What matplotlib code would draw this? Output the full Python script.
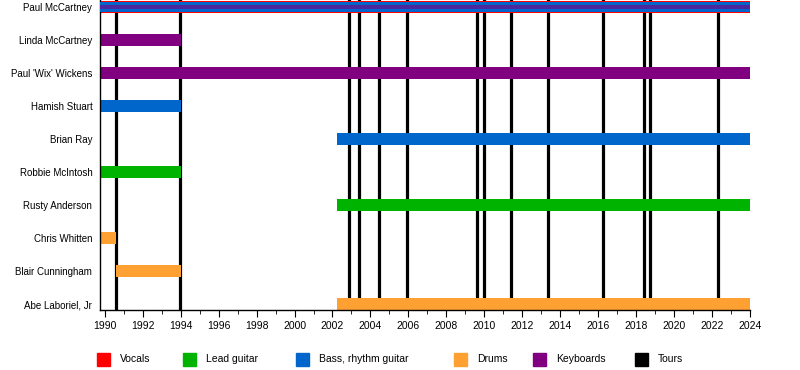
import matplotlib.pyplot as plt
from matplotlib.patches import Rectangle
from matplotlib.ticker import MultipleLocator

plt.rcParams['font.family'] = ['Liberation Sans', 'DejaVu Sans']

colours = {
    "Vocals": "#ff0000",
    "Lead guitar": "#00b300",
    "Bass, rhythm guitar": "#0066cc",
    "Drums": "#ffa033",
    "Keyboards": "#800080",
    "Tours": "#000000",
}

timeline_start = 1989.75
timeline_end = 2024.0

members = ["Paul McCartney", "Linda McCartney", "Paul 'Wix' Wickens", "Hamish Stuart",
           "Brian Ray", "Robbie McIntosh", "Rusty Anderson", "Chris Whitten",
           "Blair Cunningham", "Abe Laboriel, Jr"]
starts = [1989.75, 1989.75, 1989.75, 1989.75, 2002.25, 1989.75, 2002.25, 1989.75, 1990.58, 2002.25]
ends = [2024.0, 1994.0, 2024.0, 1994.0, 2024.0, 1994.0, 2024.0, 1990.58, 1994.0, 2024.0]
roles = ["Vocals", "Keyboards", "Keyboards", "Bass, rhythm guitar", "Bass, rhythm guitar",
         "Lead guitar", "Lead guitar", "Drums", "Drums", "Drums"]

# Paul's extra roles drawn as thinner stripes inside his vocals bar
paul_extra = ["Bass, rhythm guitar", "Keyboards"]

tours = [1990.58, 1993.95, 2002.88, 2003.41, 2004.46, 2005.94, 2009.63, 2009.98,
         2011.42, 2013.37, 2016.27, 2018.43, 2018.73, 2022.33]

fig = plt.figure(figsize=(8, 3.7), dpi=100)
ax = fig.add_axes([100 / 800, 1 - 310 / 370, 650 / 800, 310 / 370])

for t in tours:
    ax.axvline(t, color=colours["Tours"], lw=2.3, zorder=1)

for i, name in enumerate(members):
    ax.barh(i, ends[i] - starts[i], left=starts[i], height=0.38,
            color=colours[roles[i]], zorder=2)

ax.barh(0, ends[0] - starts[0], left=starts[0], height=0.31,
        color=colours[paul_extra[0]], zorder=3)
ax.barh(0, ends[0] - starts[0], left=starts[0], height=0.15,
        color=colours[paul_extra[1]], alpha=0.6, zorder=4)

ax.set_xlim(timeline_start, timeline_end)
ax.set_ylim(9 + 6 / 33, -7 / 33)
ax.set_yticks(range(len(members)))
ax.set_yticklabels(members, fontsize=7)
ax.tick_params(axis='y', length=0, pad=5.5)
ax.xaxis.set_major_locator(MultipleLocator(2))
ax.xaxis.set_minor_locator(MultipleLocator(1))
ax.tick_params(axis='x', which='major', length=5, labelsize=7.5, pad=3)
ax.tick_params(axis='x', which='minor', length=3)
ax.spines['top'].set_visible(False)
ax.spines['right'].set_visible(False)
for s in ('left', 'bottom'):
    ax.spines[s].set_linewidth(1.0)

legend_x = [97, 183, 296, 454, 533, 635]
for lx, (label, c) in zip(legend_x, colours.items()):
    fig.add_artist(Rectangle((lx / 800, 1 - 366 / 370), 13 / 800, 13 / 370,
                             color=c, transform=fig.transFigure))
    fig.text((lx + 23) / 800, 1 - 359.5 / 370, label, fontsize=7.5, va='center')

fig.savefig("out.png", dpi=100)
